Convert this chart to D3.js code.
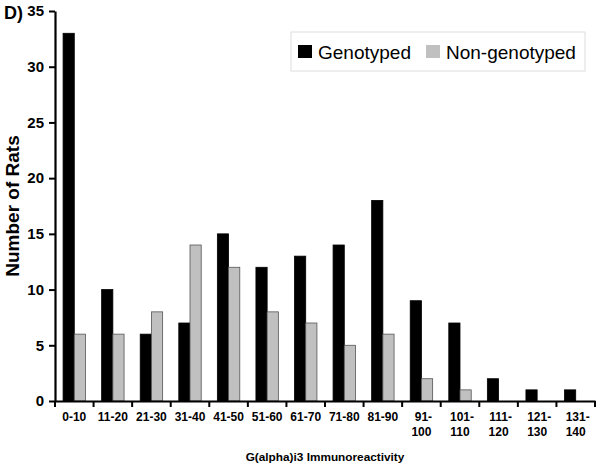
<!DOCTYPE html>
<html>
<head>
<meta charset="utf-8">
<script src="https://cdn.jsdelivr.net/npm/d3@7"></script>
<style>
  body { margin: 0; background: #fff; }
  svg { font-family: Arial, "Liberation Sans", sans-serif; }
</style>
</head>
<body>
<div id="chart"></div>
<script>
const categories = ['0-10', '11-20', '21-30', '31-40', '41-50', '51-60', '61-70',
  '71-80', '81-90', '91-100', '101-110', '111-120', '121-130', '131-140'];
const genotyped = [33, 10, 6, 7, 15, 12, 13, 14, 18, 9, 7, 2, 1, 1];
const nonGenotyped = [6, 6, 8, 14, 12, 8, 7, 5, 6, 2, 1, 0, 0, 0];
const seriesNames = ['Genotyped', 'Non-genotyped'];
const yTicks = [0, 5, 10, 15, 20, 25, 30, 35];

const width = 600, height = 467;
const margin = {top: 11, right: 5, bottom: 66, left: 55};

const svg = d3.select('#chart').append('svg')
    .attr('width', width)
    .attr('height', height);

const x = d3.scaleBand()
    .domain(categories)
    .range([margin.left, width - margin.right]);

const x1 = d3.scaleBand()
    .domain(seriesNames)
    .range([0, x.bandwidth()])
    .paddingInner(0)
    .paddingOuter(0.72);

const y = d3.scaleLinear()
    .domain([0, 35])
    .range([height - margin.bottom, margin.top]);

const colors = {'Genotyped': '#000', 'Non-genotyped': '#c0c0c0'};

/* Bars */
const rows = categories.map((c, i) => ({cat: c, vals: [genotyped[i], nonGenotyped[i]]}));
const groups = svg.append('g').selectAll('g')
    .data(rows)
    .join('g')
    .attr('transform', d => `translate(${x(d.cat)},0)`);

groups.selectAll('rect')
    .data(d => d.vals.map((v, j) => ({name: seriesNames[j], v})).filter(e => e.v > 0))
    .join('rect')
    .attr('x', d => x1(d.name))
    .attr('y', d => y(d.v))
    .attr('width', x1.bandwidth())
    .attr('height', d => y(0) - y(d.v))
    .attr('fill', d => colors[d.name])
    .attr('stroke', d => d.name === 'Genotyped' ? '#000' : '#555')
    .attr('stroke-width', 0.8);

/* Y Axis */
const yAxis = svg.append('g')
    .attr('transform', `translate(${margin.left},0)`)
    .call(d3.axisLeft(y).tickValues(yTicks).tickSize(6).tickSizeOuter(0).tickPadding(5));
yAxis.select('.domain').attr('stroke-width', 2.2);
yAxis.selectAll('.tick line').attr('stroke-width', 2);
yAxis.selectAll('.tick text')
    .attr('font-size', 15)
    .attr('font-weight', 'bold')
    .attr('fill', '#000');

/* X Axis */
const xAxis = svg.append('g')
    .attr('transform', `translate(0,${y(0)})`)
    .call(d3.axisBottom(x).tickSize(0).tickPadding(0));
xAxis.select('.domain').attr('stroke-width', 2.2);
xAxis.selectAll('.tick text').remove();

/* x tick marks at category boundaries */
const bounds = categories.map(c => x(c)).concat([x.range()[1]]);
xAxis.append('g').selectAll('line')
    .data(bounds)
    .join('line')
    .attr('x1', d => d).attr('x2', d => d)
    .attr('y1', 0).attr('y2', 6)
    .attr('stroke', '#000')
    .attr('stroke-width', 2);

/* x tick labels, split at dash for long labels */
const labelG = svg.append('g')
    .attr('font-size', 12)
    .attr('font-weight', 'bold')
    .attr('text-anchor', 'middle');
categories.forEach(c => {
  const t = labelG.append('text')
      .attr('x', x(c) + x.bandwidth() / 2)
      .attr('y', y(0) + 20);
  if (c.length > 5) {
    const parts = c.split('-');
    t.append('tspan').attr('x', x(c) + x.bandwidth() / 2 + 2).text(parts[0] + '-');
    t.append('tspan').attr('x', x(c) + x.bandwidth() / 2).attr('dy', 15).text(parts[1]);
  } else {
    t.text(c);
  }
});

/* Axis titles */
svg.append('text')
    .attr('x', (margin.left + width - margin.right) / 2)
    .attr('y', 461)
    .attr('text-anchor', 'middle')
    .attr('font-size', 11.8)
    .attr('font-weight', 'bold')
    .text('G(alpha)i3 Immunoreactivity');

svg.append('text')
    .attr('transform', `translate(19,${(margin.top + y(0)) / 2}) rotate(-90)`)
    .attr('text-anchor', 'middle')
    .attr('font-size', 19)
    .attr('font-weight', 'bold')
    .text('Number of Rats');

svg.append('text')
    .attr('x', 4)
    .attr('y', 19)
    .attr('font-size', 18)
    .attr('font-weight', 'bold')
    .text('D)');

/* Legend */
const legend = svg.append('g');
legend.append('rect')
    .attr('x', 291).attr('y', 32)
    .attr('width', 294).attr('height', 39)
    .attr('fill', '#fff')
    .attr('stroke', '#ddd');
const legendX = [298, 426];
seriesNames.forEach((n, i) => {
  legend.append('rect')
      .attr('x', legendX[i]).attr('y', 45)
      .attr('width', 14).attr('height', 13)
      .attr('fill', colors[n]);
  legend.append('text')
      .attr('x', legendX[i] + 20).attr('y', 59)
      .attr('font-size', 19)
      .text(n);
});
</script>
</body>
</html>
